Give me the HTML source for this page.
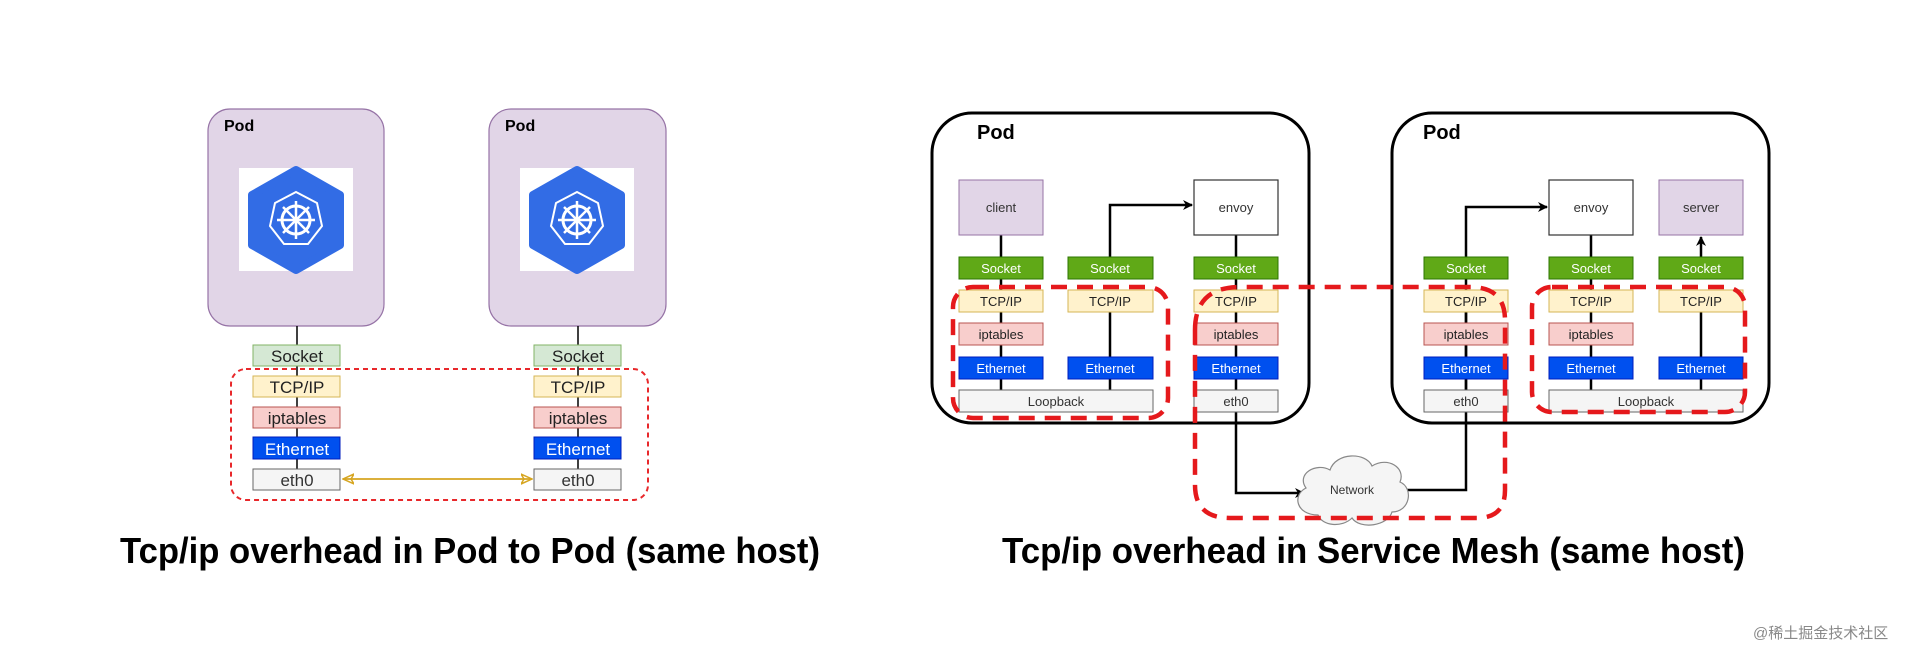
<!DOCTYPE html>
<html><head><meta charset="utf-8"><style>
html,body{margin:0;padding:0;background:#fff;}
svg{display:block;font-family:"Liberation Sans",Arial,sans-serif;}
</style></head><body>
<svg width="1920" height="650" viewBox="0 0 1920 650" xmlns="http://www.w3.org/2000/svg">
<defs>
<marker id="ab" markerWidth="10" markerHeight="10" refX="9" refY="5" orient="auto" markerUnits="userSpaceOnUse"><path d="M0,0 L10,5 L0,10 L3,5 Z" fill="#000"/></marker>
<marker id="ay" markerWidth="12" markerHeight="12" refX="11" refY="6" orient="auto-start-reverse" markerUnits="userSpaceOnUse"><path d="M0,1 L11,6 L0,11 L3,6 Z" fill="none" stroke="#d6a520" stroke-width="1.5"/></marker>
<g id="k8s">
<rect x="-57" y="-52" width="114" height="103" fill="#fff"/>
<path d="M0,-50 L44,-25 L44,25 L0,50 L-44,25 L-44,-25 Z" fill="#326ce5" stroke="#326ce5" stroke-width="8" stroke-linejoin="round"/>
<path d="M0,-28 L21,-17 L26,6 L12,24 L-12,24 L-26,6 L-21,-17 Z" fill="none" stroke="#fff" stroke-width="2"/>
<circle r="14" fill="none" stroke="#fff" stroke-width="3"/>
<circle r="3" fill="#fff"/>
<g stroke="#fff" stroke-width="2.5">
<line x1="0" y1="-19" x2="0" y2="19"/><line x1="-19" y1="0" x2="19" y2="0"/>
<line x1="-13" y1="-13" x2="13" y2="13"/><line x1="-13" y1="13" x2="13" y2="-13"/>
</g>
</g>
</defs>

<!-- LEFT -->
<rect x="208" y="109" width="176" height="217" rx="22" fill="#e1d5e7" stroke="#9673a6" stroke-width="1.2"/>
<rect x="489" y="109" width="177" height="217" rx="22" fill="#e1d5e7" stroke="#9673a6" stroke-width="1.2"/>
<text x="224" y="131" font-size="16" font-weight="bold">Pod</text>
<text x="505" y="131" font-size="16" font-weight="bold">Pod</text>
<use href="#k8s" x="296" y="220"/>
<use href="#k8s" x="577" y="220"/>
<line x1="297" y1="326" x2="297" y2="470" stroke="#000" stroke-width="1.5"/>
<line x1="578" y1="326" x2="578" y2="470" stroke="#000" stroke-width="1.5"/>
<g font-size="17" text-anchor="middle">
<rect x="253" y="345" width="87" height="21" fill="#d5e8d4" stroke="#82b366"/><text x="297" y="362" fill="#222">Socket</text>
<rect x="253" y="376" width="87" height="21" fill="#fff2cc" stroke="#d6b656"/><text x="297" y="393" fill="#222">TCP/IP</text>
<rect x="253" y="407" width="87" height="21" fill="#f8cecc" stroke="#b85450"/><text x="297" y="424" fill="#222">iptables</text>
<rect x="253" y="437" width="87" height="22" fill="#0050ef" stroke="#001dbc"/><text x="297" y="455" fill="#fff">Ethernet</text>
<rect x="253" y="469" width="87" height="21" fill="#f5f5f5" stroke="#666"/><text x="297" y="486" fill="#333">eth0</text>
<rect x="534" y="345" width="87" height="21" fill="#d5e8d4" stroke="#82b366"/><text x="578" y="362" fill="#222">Socket</text>
<rect x="534" y="376" width="87" height="21" fill="#fff2cc" stroke="#d6b656"/><text x="578" y="393" fill="#222">TCP/IP</text>
<rect x="534" y="407" width="87" height="21" fill="#f8cecc" stroke="#b85450"/><text x="578" y="424" fill="#222">iptables</text>
<rect x="534" y="437" width="87" height="22" fill="#0050ef" stroke="#001dbc"/><text x="578" y="455" fill="#fff">Ethernet</text>
<rect x="534" y="469" width="87" height="21" fill="#f5f5f5" stroke="#666"/><text x="578" y="486" fill="#333">eth0</text>
</g>
<line x1="343" y1="479" x2="532" y2="479" stroke="#d6a520" stroke-width="1.8" marker-start="url(#ay)" marker-end="url(#ay)"/>
<rect x="231" y="369" width="417" height="131" rx="15" fill="none" stroke="#e8282b" stroke-width="2" stroke-dasharray="5,4"/>
<text x="120" y="563" font-size="36" font-weight="bold" textLength="700" lengthAdjust="spacingAndGlyphs">Tcp/ip overhead in Pod to Pod (same host)</text>

<!-- RIGHT -->
<rect x="932" y="113" width="377" height="310" rx="40" fill="none" stroke="#000" stroke-width="3"/>
<rect x="1392" y="113" width="377" height="310" rx="40" fill="none" stroke="#000" stroke-width="3"/>
<text x="977" y="139" font-size="20" font-weight="bold">Pod</text>
<text x="1423" y="139" font-size="20" font-weight="bold">Pod</text>

<g stroke="#000" stroke-width="2.5" fill="none">
<line x1="1001" y1="235" x2="1001" y2="390"/>
<line x1="1110" y1="290" x2="1110" y2="390"/>
<line x1="1236" y1="235" x2="1236" y2="390"/>
<line x1="1466" y1="290" x2="1466" y2="390"/>
<line x1="1591" y1="235" x2="1591" y2="390"/>
<line x1="1701" y1="290" x2="1701" y2="390"/>
<path d="M1110,257 L1110,205 L1192,205" marker-end="url(#ab)"/>
<path d="M1236,412 L1236,493 L1304,493" marker-end="url(#ab)"/>
<path d="M1403,490 L1466,490 L1466,207 L1547,207" marker-end="url(#ab)"/>
<path d="M1701,257 L1701,237" marker-end="url(#ab)"/>
</g>
<g font-size="13" text-anchor="middle">
<rect x="959" y="180" width="84" height="55" fill="#e1d5e7" stroke="#9673a6"/><text x="1001" y="212" fill="#333">client</text>
<rect x="1194" y="180" width="84" height="55" fill="#fff" stroke="#333" stroke-width="1.2"/><text x="1236" y="212" fill="#333">envoy</text>
<rect x="1549" y="180" width="84" height="55" fill="#fff" stroke="#333" stroke-width="1.2"/><text x="1591" y="212" fill="#333">envoy</text>
<rect x="1659" y="180" width="84" height="55" fill="#e1d5e7" stroke="#9673a6"/><text x="1701" y="212" fill="#333">server</text>

<rect x="959" y="257" width="84" height="22" fill="#60a917" stroke="#2d7600"/><text x="1001" y="273" fill="#fff">Socket</text>
<rect x="1068" y="257" width="85" height="22" fill="#60a917" stroke="#2d7600"/><text x="1110" y="273" fill="#fff">Socket</text>
<rect x="1194" y="257" width="84" height="22" fill="#60a917" stroke="#2d7600"/><text x="1236" y="273" fill="#fff">Socket</text>
<rect x="1424" y="257" width="84" height="22" fill="#60a917" stroke="#2d7600"/><text x="1466" y="273" fill="#fff">Socket</text>
<rect x="1549" y="257" width="84" height="22" fill="#60a917" stroke="#2d7600"/><text x="1591" y="273" fill="#fff">Socket</text>
<rect x="1659" y="257" width="84" height="22" fill="#60a917" stroke="#2d7600"/><text x="1701" y="273" fill="#fff">Socket</text>

<rect x="959" y="290" width="84" height="22" fill="#fff2cc" stroke="#d6b656"/><text x="1001" y="306" fill="#222">TCP/IP</text>
<rect x="1068" y="290" width="85" height="22" fill="#fff2cc" stroke="#d6b656"/><text x="1110" y="306" fill="#222">TCP/IP</text>
<rect x="1194" y="290" width="84" height="22" fill="#fff2cc" stroke="#d6b656"/><text x="1236" y="306" fill="#222">TCP/IP</text>
<rect x="1424" y="290" width="84" height="22" fill="#fff2cc" stroke="#d6b656"/><text x="1466" y="306" fill="#222">TCP/IP</text>
<rect x="1549" y="290" width="84" height="22" fill="#fff2cc" stroke="#d6b656"/><text x="1591" y="306" fill="#222">TCP/IP</text>
<rect x="1659" y="290" width="84" height="22" fill="#fff2cc" stroke="#d6b656"/><text x="1701" y="306" fill="#222">TCP/IP</text>

<rect x="959" y="323" width="84" height="22" fill="#f8cecc" stroke="#b85450"/><text x="1001" y="339" fill="#222">iptables</text>
<rect x="1194" y="323" width="84" height="22" fill="#f8cecc" stroke="#b85450"/><text x="1236" y="339" fill="#222">iptables</text>
<rect x="1424" y="323" width="84" height="22" fill="#f8cecc" stroke="#b85450"/><text x="1466" y="339" fill="#222">iptables</text>
<rect x="1549" y="323" width="84" height="22" fill="#f8cecc" stroke="#b85450"/><text x="1591" y="339" fill="#222">iptables</text>

<rect x="959" y="357" width="84" height="22" fill="#0050ef" stroke="#001dbc"/><text x="1001" y="373" fill="#fff">Ethernet</text>
<rect x="1068" y="357" width="85" height="22" fill="#0050ef" stroke="#001dbc"/><text x="1110" y="373" fill="#fff">Ethernet</text>
<rect x="1194" y="357" width="84" height="22" fill="#0050ef" stroke="#001dbc"/><text x="1236" y="373" fill="#fff">Ethernet</text>
<rect x="1424" y="357" width="84" height="22" fill="#0050ef" stroke="#001dbc"/><text x="1466" y="373" fill="#fff">Ethernet</text>
<rect x="1549" y="357" width="84" height="22" fill="#0050ef" stroke="#001dbc"/><text x="1591" y="373" fill="#fff">Ethernet</text>
<rect x="1659" y="357" width="84" height="22" fill="#0050ef" stroke="#001dbc"/><text x="1701" y="373" fill="#fff">Ethernet</text>

<rect x="959" y="390" width="194" height="22" fill="#f5f5f5" stroke="#666"/><text x="1056" y="406" fill="#333">Loopback</text>
<rect x="1194" y="390" width="84" height="22" fill="#f5f5f5" stroke="#666"/><text x="1236" y="406" fill="#333">eth0</text>
<rect x="1424" y="390" width="84" height="22" fill="#f5f5f5" stroke="#666"/><text x="1466" y="406" fill="#333">eth0</text>
<rect x="1549" y="390" width="194" height="22" fill="#f5f5f5" stroke="#666"/><text x="1646" y="406" fill="#333">Loopback</text>
</g>

<!-- cloud -->
<path d="M1318,515 C1296,515 1292,495 1306,488 C1296,474 1316,462 1330,470 C1336,452 1366,452 1372,466 C1388,456 1406,468 1400,482 C1414,488 1410,512 1392,512 C1388,526 1360,530 1352,518 C1342,528 1322,526 1318,515 Z" fill="#f5f5f5" stroke="#888" stroke-width="1.2"/>
<text x="1352" y="494" font-size="12" text-anchor="middle" fill="#333">Network</text>

<!-- red dashed -->
<g fill="none" stroke="#e5191c" stroke-width="4.5" stroke-dasharray="16,10">
<rect x="953" y="287" width="215" height="131" rx="20"/>
<path d="M1195,330 Q1195,287 1240,287 L1470,287 Q1505,287 1505,320 L1505,490 Q1505,518 1477,518 L1230,518 Q1195,518 1195,485 Z"/>
<rect x="1532" y="287" width="213" height="125" rx="20"/>
</g>

<text x="1002" y="563" font-size="36" font-weight="bold" textLength="743" lengthAdjust="spacingAndGlyphs">Tcp/ip overhead in Service Mesh (same host)</text>
<text x="1753" y="638" font-size="15" fill="#888" font-family="'Liberation Sans','Noto Sans CJK SC',sans-serif">@稀土掘金技术社区</text>
</svg>
</body></html>
